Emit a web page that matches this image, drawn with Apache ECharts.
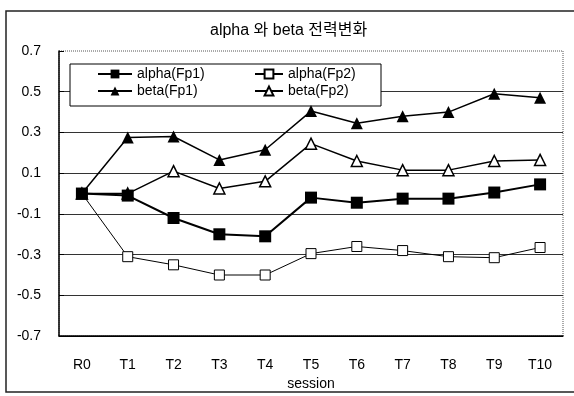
<!DOCTYPE html>
<html>
<head>
<meta charset="utf-8">
<script src="https://cdn.jsdelivr.net/npm/echarts@6/dist/echarts.min.js"></script>
<style>
  html, body { margin: 0; padding: 0; background: #fff; }
  #chart { width: 574px; height: 396px; }
</style>
</head>
<body>
<div id="chart"></div>
<script>
// sessions on the x axis
var sessions = ['R0', 'T1', 'T2', 'T3', 'T4', 'T5', 'T6', 'T7', 'T8', 'T9', 'T10'];

// values
var alphaFp1 = [0.0, -0.01, -0.12, -0.20, -0.21, -0.02, -0.045, -0.025, -0.025, 0.005, 0.045];
var alphaFp2 = [0.0, -0.31, -0.35, -0.40, -0.40, -0.295, -0.26, -0.28, -0.31, -0.315, -0.265];
var betaFp1 = [0.0, 0.275, 0.28, 0.165, 0.215, 0.405, 0.345, 0.38, 0.40, 0.49, 0.47];
var betaFp2 = [0.0, 0.0, 0.11, 0.025, 0.06, 0.245, 0.16, 0.115, 0.115, 0.16, 0.165];

var fontFam = "'Liberation Sans', Arial, 'Noto Sans CJK KR', sans-serif";

var myChart = echarts.init(document.getElementById('chart'));

var option = {
    backgroundColor: '#fff',
    animation: false,
    textStyle: { fontFamily: fontFam, color: '#000' },
    title: {
        text: 'alpha 와 beta 전력변화',
        left: 205,
        top: 18,
        textStyle: { fontSize: 16, fontWeight: 'normal', color: '#000', fontFamily: fontFam }
    },
    graphic: [
        // outer frame
        { type: 'rect', shape: { x: 6, y: 11, width: 600, height: 381 },
          style: { fill: 'none', stroke: '#222', lineWidth: 1.5 }, z: 10 },
        // legend box
        { type: 'rect', shape: { x: 70, y: 64, width: 311, height: 42 },
          style: { fill: '#fff', stroke: '#000', lineWidth: 1 }, z: 3 }
    ],
    legend: [
        {
            data: ['alpha(Fp1)', 'beta(Fp1)'],
            orient: 'vertical',
            left: 97, top: 67, padding: 0,
            itemWidth: 34, itemHeight: 11, itemGap: 3,
            textStyle: { fontSize: 14, color: '#000', fontFamily: fontFam },
            z: 5
        },
        {
            data: ['alpha(Fp2)', 'beta(Fp2)'],
            orient: 'vertical',
            left: 254, top: 67, padding: 0,
            itemWidth: 28, itemHeight: 11, itemGap: 3,
            textStyle: { fontSize: 14, color: '#000', fontFamily: fontFam },
            z: 5
        }
    ],
    grid: {
        left: 59, right: 11, top: 51, bottom: 52,
        show: true,
        borderColor: '#555',
        borderWidth: 1,
        borderType: 'dotted'
    },
    xAxis: {
        type: 'category',
        data: sessions,
        boundaryGap: true,
        name: 'session',
        nameLocation: 'middle',
        nameGap: 40,
        nameTextStyle: { fontSize: 14, color: '#000', fontFamily: fontFam },
        axisLine: { onZero: false, lineStyle: { color: '#000', width: 1.5 } },
        axisTick: { inside: true, length: 5, lineStyle: { color: '#000' } },
        axisLabel: { fontSize: 14, color: '#000', margin: 22, fontFamily: fontFam },
        splitLine: { show: false }
    },
    yAxis: {
        type: 'value',
        min: -0.7,
        max: 0.7,
        interval: 0.2,
        axisLine: { show: true, lineStyle: { color: '#000', width: 1.5 } },
        axisTick: { show: true, inside: true, length: 5, lineStyle: { color: '#000' } },
        axisLabel: {
            fontSize: 14, color: '#000', margin: 18, fontFamily: fontFam,
            formatter: function (v) { return v.toFixed(1); }
        },
        splitLine: {
            show: true,
            lineStyle: {
                color: ['#000', '#333', '#333', '#333', '#333', '#333', '#333', 'rgba(0,0,0,0)'],
                width: 1
            }
        }
    },
    series: [
        {
            name: 'alpha(Fp1)', type: 'line', data: alphaFp1,
            symbol: 'rect', symbolSize: 12,
            lineStyle: { color: '#000', width: 2 },
            itemStyle: { color: '#000' },
            z: 6
        },
        {
            name: 'alpha(Fp2)', type: 'line', data: alphaFp2,
            symbol: 'rect', symbolSize: 10,
            lineStyle: { color: '#000', width: 1 },
            itemStyle: { color: '#fff', borderColor: '#000', borderWidth: 1 },
            z: 4
        },
        {
            name: 'beta(Fp1)', type: 'line', data: betaFp1,
            symbol: 'triangle', symbolSize: 12,
            lineStyle: { color: '#000', width: 1.5 },
            itemStyle: { color: '#000' },
            z: 4
        },
        {
            name: 'beta(Fp2)', type: 'line', data: betaFp2,
            symbol: 'triangle', symbolSize: 11,
            lineStyle: { color: '#000', width: 1.5 },
            itemStyle: { color: '#fff', borderColor: '#000', borderWidth: 1.5 },
            z: 3
        }
    ]
};

myChart.setOption(option, true);
</script>
</body>
</html>
